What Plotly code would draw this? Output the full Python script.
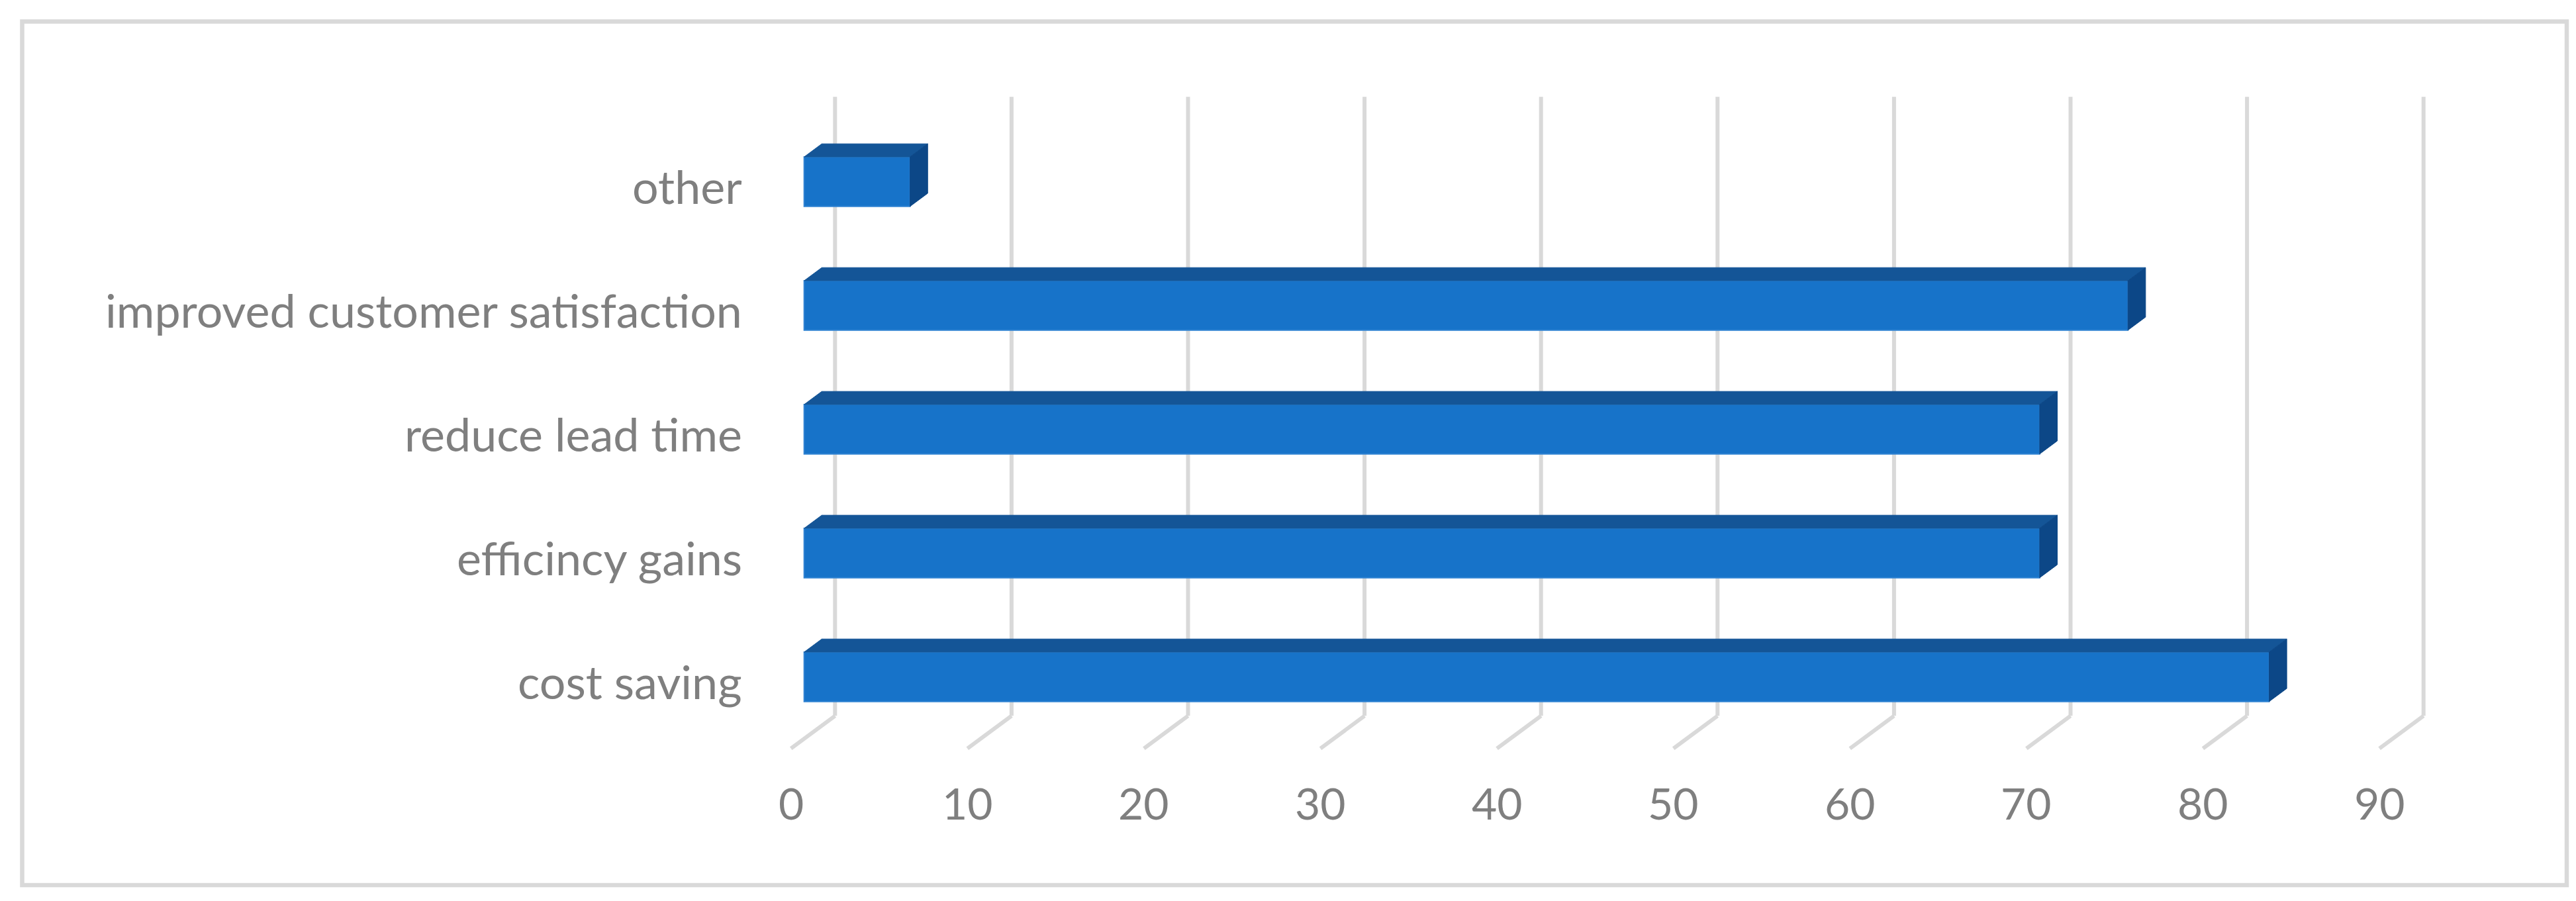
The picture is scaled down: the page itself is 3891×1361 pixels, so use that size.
import plotly.graph_objects as go

# ---------------- data ----------------
categories = ["cost saving", "efficincy gains", "reduce lead time",
              "improved customer satisfaction", "other"]
values = [83, 70, 70, 75, 6]
x_ticks = [0, 10, 20, 30, 40, 50, 60, 70, 80, 90]

# ---------------- geometry (pixel calibration) ----------------
W, H = 3891, 1361
PX_PER_UNIT = 26.66      # px per value unit
X0_PX = 1186.7           # pixel x of value 0 on the front plane
CAT_PX = 187.0           # px per category
C0_PX = 1029.2           # pixel y of first category on the front plane
DX = 66.6 / PX_PER_UNIT  # depth offset in value units
DY = 49.4 / CAT_PX       # depth offset in category units
F, B = 0.3, 0.7          # bar front / back depth fractions
BAR_H = 0.40             # bar thickness in category units

x_range = [-X0_PX / PX_PER_UNIT, (W - X0_PX) / PX_PER_UNIT]
y_range = [(C0_PX - H) / CAT_PX, C0_PX / CAT_PX]

GRID = "#d9d9d9"
FRONT = "#1773C9"
TOP = "#145597"
SIDE = "#0C4787"
TXT = "#7f7f7f"
FONT = "Lato"

n = len(categories)
ypos = list(range(n))

fig = go.Figure()

# front faces of the bars
fig.add_trace(go.Bar(
    orientation="h",
    y=[i + F * DY for i in ypos],
    x=values,
    base=[F * DX] * n,
    width=BAR_H,
    marker=dict(color=FRONT, line=dict(color="#2F82D2", width=2)),
    hoverinfo="skip",
    showlegend=False,
))

# top and side faces
for i, v in zip(ypos, values):
    yt = i + BAR_H / 2
    yb = i - BAR_H / 2
    fig.add_trace(go.Scatter(
        x=[F * DX, v + F * DX, v + B * DX, B * DX, F * DX],
        y=[yt + F * DY, yt + F * DY, yt + B * DY, yt + B * DY, yt + F * DY],
        fill="toself", fillcolor=TOP, mode="lines",
        line=dict(color=TOP, width=1), hoverinfo="skip", showlegend=False,
    ))
    fig.add_trace(go.Scatter(
        x=[v + F * DX, v + F * DX, v + B * DX, v + B * DX, v + F * DX],
        y=[yb + F * DY, yt + F * DY, yt + B * DY, yb + B * DY, yb + F * DY],
        fill="toself", fillcolor=SIDE, mode="lines",
        line=dict(color=SIDE, width=1), hoverinfo="skip", showlegend=False,
    ))

# gridlines: floor diagonals + back wall verticals (below the bars)
shapes = []
lo, hi = -0.5, n - 0.5
for t in x_ticks:
    shapes.append(dict(type="line", xref="x", yref="y", layer="below",
                       x0=t, y0=lo, x1=t + DX, y1=lo + DY,
                       line=dict(color=GRID, width=6)))
    shapes.append(dict(type="line", xref="x", yref="y", layer="below",
                       x0=t + DX, y0=lo + DY, x1=t + DX, y1=hi + DY,
                       line=dict(color=GRID, width=6)))

# chart border
shapes.append(dict(type="rect", xref="paper", yref="paper", layer="above",
                   x0=25.5 / W, x1=3869 / W, y0=1 - 1329 / H, y1=1 - 24.5 / H,
                   line=dict(color=GRID, width=6.5), fillcolor="rgba(0,0,0,0)"))

annotations = []
for i, c in zip(ypos, categories):
    annotations.append(dict(x=-72 / PX_PER_UNIT, y=i + 0.045, xref="x", yref="y",
                            text=c, showarrow=False, xanchor="right", yanchor="middle",
                            font=dict(family=FONT, size=70, color=TXT)))
for t in x_ticks:
    annotations.append(dict(x=t, y=-0.94, xref="x", yref="y",
                            text=str(t), showarrow=False, xanchor="center", yanchor="middle",
                            font=dict(family=FONT, size=66, color=TXT)))

fig.update_layout(
    width=W, height=H,
    margin=dict(l=0, r=0, t=0, b=0),
    paper_bgcolor="white", plot_bgcolor="white",
    xaxis=dict(range=x_range, visible=False, fixedrange=True),
    yaxis=dict(range=y_range, visible=False, fixedrange=True),
    shapes=shapes, annotations=annotations,
    showlegend=False,
)

fig.write_html("out.html")
